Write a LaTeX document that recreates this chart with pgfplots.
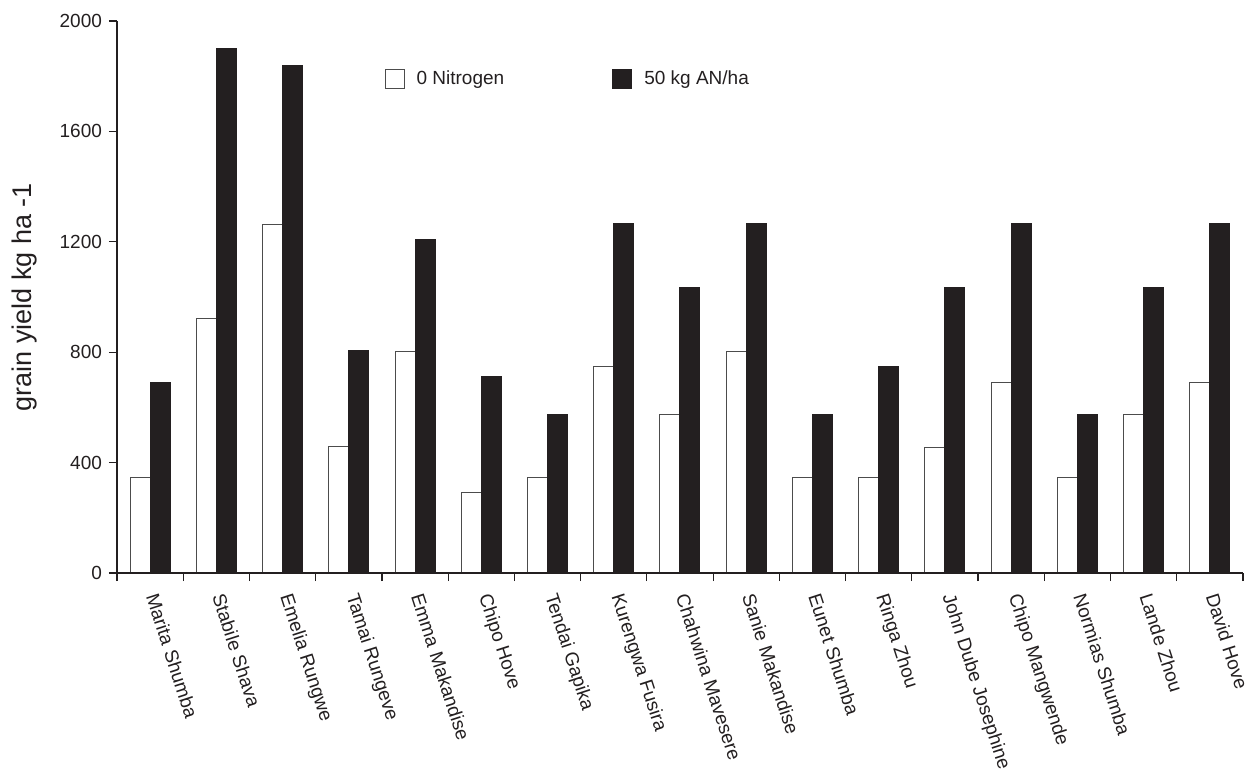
\documentclass[border=0pt]{standalone}
\usepackage{pgfplots}
\pgfplotsset{compat=1.18}
\usepackage{fontspec}
\setmainfont{Liberation Sans}
\definecolor{barblack}{HTML}{231F20}
\definecolor{ink}{HTML}{231F20}
\begin{document}
\begin{tikzpicture}
\begin{axis}[
  scale only axis, width=563pt, height=276pt,
  xmin=-0.5, xmax=16.5, ymin=0, ymax=2000,
  axis on top,
  axis x line*=bottom, axis y line*=left,
  axis line style={ink, line width=0.6pt},
  ybar=0pt, bar width=10pt,
  xtick={0,...,16},
  xticklabels={Marita Shumba, Stabile Shava, Emelia Rungwe, Tamai Rungeve, Emma Makandise, Chipo Hove, Tendai Gapika, Kurengwa Fusira, Chahwina Mavesere, Sanie Makandise, Eunet Shumba, Ringa Zhou, John Dube Josephine, Chipo Mangwende, Normias Shumba, Lande Zhou, David Hove},
  major x tick style={draw=none},
  minor xtick={-0.5,0.5,...,16.5},
  ytick={0,400,...,2000},
  tick align=outside, major tick length=4pt, minor tick length=4pt,
  tick style={ink, line width=0.6pt},
  /pgf/number format/assume math mode=true,
  /pgf/number format/1000 sep={},
  yticklabel style={font=\fontsize{9.5}{11}\selectfont, text=ink},
  xticklabel style={yshift=-3.5pt, rotate=-72, anchor=west, font=\fontsize{9.5}{11}\selectfont, text=ink},
  ylabel={grain yield kg ha -1},
  ylabel style={at={(axis description cs:-0.082,0.5)}, anchor=center, font=\fontsize{13.5}{15}\selectfont, text=ink},
  legend columns=2,
  legend style={draw=none, fill=none, at={(axis description cs:0.232,0.925)}, anchor=north west,
    font=\fontsize{9.5}{11}\selectfont, text=ink,
    /tikz/every odd column/.append style={column sep=4pt},
    /tikz/every even column/.append style={column sep=52pt}},
  legend image code/.code={\draw[#1] (0pt,-4.75pt) rectangle (9.5pt,4.75pt);},
]
\addplot[fill=white, draw=black!70, line width=0.5pt] coordinates {
(0,345) (1,921) (2,1263) (3,458) (4,803) (5,293) (6,345) (7,749) (8,575) (9,803) (10,345) (11,345) (12,456) (13,691) (14,345) (15,575) (16,691)};
\addlegendentry{0 Nitrogen}
\addplot[fill=barblack, draw=barblack, line width=0.5pt] coordinates {
(0,692) (1,1900) (2,1840) (3,805) (4,1208) (5,711) (6,576) (7,1265) (8,1035) (9,1265) (10,576) (11,750) (12,1035) (13,1265) (14,576) (15,1035) (16,1265)};
\addlegendentry{50 kg AN/ha}
\end{axis}
\pgfresetboundingbox
\path (current axis.south west) ++(-58.5pt,-100pt) rectangle ++(627.5pt,386.5pt);
\end{tikzpicture}
\end{document}
